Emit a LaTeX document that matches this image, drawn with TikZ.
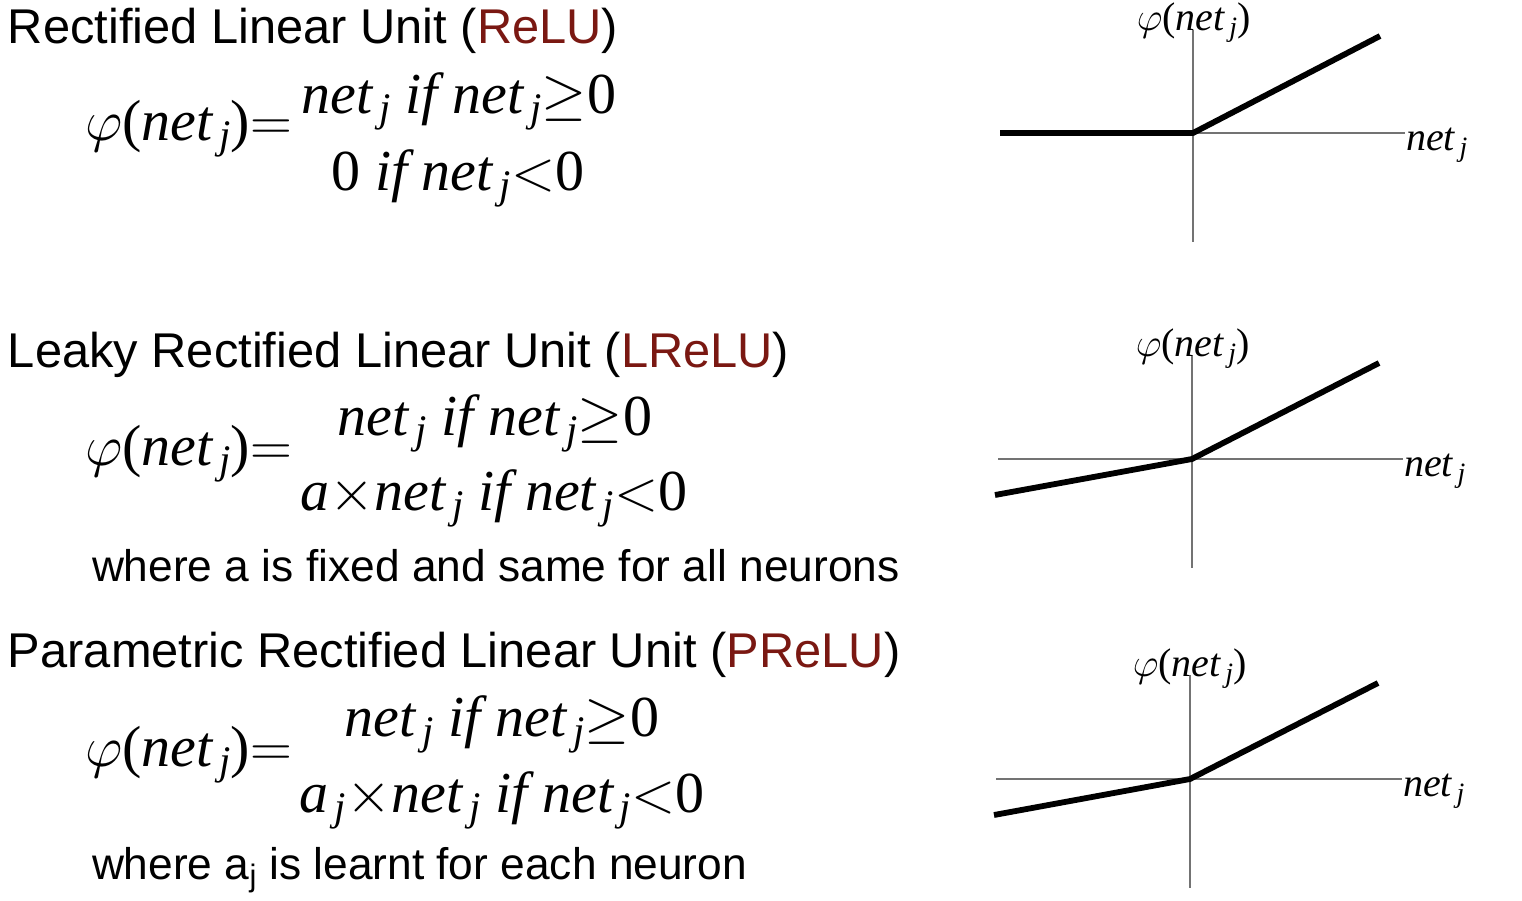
\RequirePackage{fix-cm}
\documentclass[tikz,border=0pt]{standalone}
\usepackage[no-math]{fontspec}
\usepackage{amsmath}
\setmainfont{Liberation Sans}
\newfontfamily\eqfont{Liberation Serif}
\usetikzlibrary{positioning}
\definecolor{unitred}{RGB}{122,24,18}
\newcommand{\netj}{net$_{\,\text{j}}$}
\newcommand{\phinet}{$\varphi$\textup{(}\netj\textup{)}}

\begin{document}
\begin{tikzpicture}[x=1pt,y=-1pt,
                    every node/.style={inner sep=0pt,outer sep=0pt},
                    title/.style={anchor=base west,font=\fontsize{48.8}{56}\selectfont},
                    note/.style={anchor=base west,font=\fontsize{44.3}{52}\selectfont},
                    formula/.style={anchor=base,font=\eqfont\itshape\fontsize{58}{66}\selectfont},
                    lhs/.style={formula,anchor=base west},
                    axislabel/.style={font=\eqfont\itshape\fontsize{40}{48}\selectfont},
                    axis/.style={draw=black!55,line width=1.3pt},
                    curve/.style={line width=5.8pt,line join=round}]
    \useasboundingbox (0,0) rectangle (1522,900);

    % ReLU
    \node (Title1) [title] at (8,43) {Rectified Linear Unit (\textcolor{unitred}{ReLU})};
    \node (Lhs1) [lhs] at (85,140) {\phinet$=$};
    \node (RowA1) [formula] at (459,113) {\netj\ if \netj$\geq$\textup{0}};
    \node (RowB1) [formula] at (458,190) {\textup{0} if \netj$<$\textup{0}};

    % LReLU
    \node (Title2) [title] at (8,367) {Leaky Rectified Linear Unit (\textcolor{unitred}{LReLU})};
    \node (Lhs2) [lhs] at (85,465) {\phinet$=$};
    \node (RowA2) [formula] at (495,435) {\netj\ if \netj$\geq$\textup{0}};
    \node (RowB2) [formula] at (494,510) {a$\times$\netj\ if \netj$<$\textup{0}};
    \node (Note2) [note] at (92,581) {where a is fixed and same for all neurons};

    % PReLU
    \node (Title3) [title] at (8,667) {Parametric Rectified Linear Unit (\textcolor{unitred}{PReLU})};
    \node (Lhs3) [lhs] at (85,766) {\phinet$=$};
    \node (RowA3) [formula] at (502,736) {\netj\ if \netj$\geq$\textup{0}};
    \node (RowB3) [formula] at (502,812) {a$_{\,\text{j}}$$\times$\netj\ if \netj$<$\textup{0}};
    \node (Note3) [note] at (92,879) {where a$_{\text{j}}$ is learnt for each neuron};

    % graph 1
    \coordinate (O1) at (1193,133);
    \coordinate (XL1) at (1000,133);
    \coordinate (XR1) at (1405,133);
    \coordinate (YT1) at (1193,30);
    \coordinate (YB1) at (1193,242);
    \coordinate (CL1) at (1000,133);
    \coordinate (CR1) at (1380,36);
    \draw[axis] (XL1) -- (XR1);
    \draw[axis] (YT1) -- (YB1);
    \draw[curve] (CL1) -- (O1) -- (CR1);
    \node (Phi1) [axislabel,anchor=base] at (1194,30) {\phinet};
    \node (Net1) [axislabel,anchor=base west,right=1pt of XR1.east,yshift=-12pt] {\netj};

    % graph 2
    \coordinate (O2) at (1192,459);
    \coordinate (XL2) at (998,459);
    \coordinate (XR2) at (1403,459);
    \coordinate (YT2) at (1192,355);
    \coordinate (YB2) at (1192,568);
    \coordinate (CL2) at (995,495);
    \coordinate (CR2) at (1379,363);
    \draw[axis] (XL2) -- (XR2);
    \draw[axis] (YT2) -- (YB2);
    \draw[curve] (CL2) -- (O2) -- (CR2);
    \node (Phi2) [axislabel,anchor=base] at (1193,356) {\phinet};
    \node (Net2) [axislabel,anchor=base west,right=1pt of XR2.east,yshift=-12pt] {\netj};

    % graph 3
    \coordinate (O3) at (1190,779);
    \coordinate (XL3) at (996,779);
    \coordinate (XR3) at (1402,779);
    \coordinate (YT3) at (1190,675);
    \coordinate (YB3) at (1190,888);
    \coordinate (CL3) at (994,815);
    \coordinate (CR3) at (1378,683);
    \draw[axis] (XL3) -- (XR3);
    \draw[axis] (YT3) -- (YB3);
    \draw[curve] (CL3) -- (O3) -- (CR3);
    \node (Phi3) [axislabel,anchor=base] at (1190,676) {\phinet};
    \node (Net3) [axislabel,anchor=base west,right=1pt of XR3.east,yshift=-12pt] {\netj};
\end{tikzpicture}
\end{document}
